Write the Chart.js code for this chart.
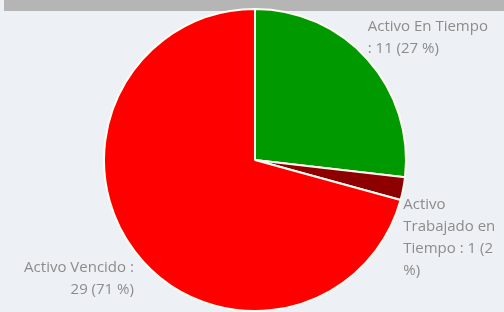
<!DOCTYPE html>
<html>
<head>
<meta charset="utf-8">
<script src="https://cdn.jsdelivr.net/npm/chart.js@4"></script>
<style>
  html, body { margin: 0; padding: 0; }
  body { width: 504px; height: 312px; background: #edf0f4; position: relative; overflow: hidden; }
  #band { position: absolute; left: 4px; top: 0; width: 500px; height: 11px; background: #b5b5b5; }
  #wrap { position: absolute; left: 0; top: 0; width: 504px; height: 312px; }
</style>
</head>
<body>
<div id="band"></div>
<div id="wrap"><canvas id="estado-chart"></canvas></div>
<script>
var categories = ['Activo En Tiempo', 'Activo Trabajado en Tiempo', 'Activo Vencido'];
var values = [11, 1, 29];
var percents = [27, 2, 71];
var colors = ['#009a00', '#8e0000', '#ff0000'];

// labels outside the pie, wrapped to the space left in the canvas
var outerLabels = {
  id: 'outerLabels',
  afterDraw: function (chart) {
    var ctx = chart.ctx;
    var meta = chart.getDatasetMeta(0);
    ctx.save();
    ctx.font = '15px "Open Sans"';
    ctx.fillStyle = '#8c8c8c';
    var lineH = 22;
    meta.data.forEach(function (arc, i) {
      var mid = (arc.startAngle + arc.endAngle) / 2;
      var px = arc.x + Math.cos(mid) * arc.outerRadius;
      var py = arc.y + Math.sin(mid) * arc.outerRadius;
      var right = px >= arc.x;
      var maxW = Math.min(125, right ? chart.width - px - 6 : px - 6);
      var text = categories[i] + ' : ' + values[i] + ' (' + percents[i] + ' %)';
      var words = text.split(' ');
      var lines = [];
      var cur = '';
      words.forEach(function (w) {
        var t = cur ? cur + ' ' + w : w;
        if (cur && ctx.measureText(t).width > maxW) {
          lines.push(cur);
          cur = w;
        } else {
          cur = t;
        }
      });
      if (cur) lines.push(cur);
      var top = py < arc.y ? py - lines.length * lineH : py + 5;
      ctx.textAlign = right ? 'left' : 'right';
      ctx.textBaseline = 'middle';
      lines.forEach(function (l, k) {
        ctx.fillText(l, right ? px : px - 1, top + lineH / 2 + k * lineH);
      });
    });
    ctx.restore();
  }
};

var chart = new Chart(document.getElementById('estado-chart'), {
  type: 'pie',
  data: {
    labels: categories,
    datasets: [{
      data: values,
      backgroundColor: colors,
      borderColor: '#fffdf2',
      borderWidth: 2
    }]
  },
  options: {
    responsive: true,
    maintainAspectRatio: false,
    animation: false,
    layout: { padding: { top: 8, left: 6, right: 0, bottom: 0 } },
    plugins: {
      legend: { display: false },
      tooltip: { enabled: false }
    }
  },
  plugins: [outerLabels]
});
</script>
</body>
</html>
